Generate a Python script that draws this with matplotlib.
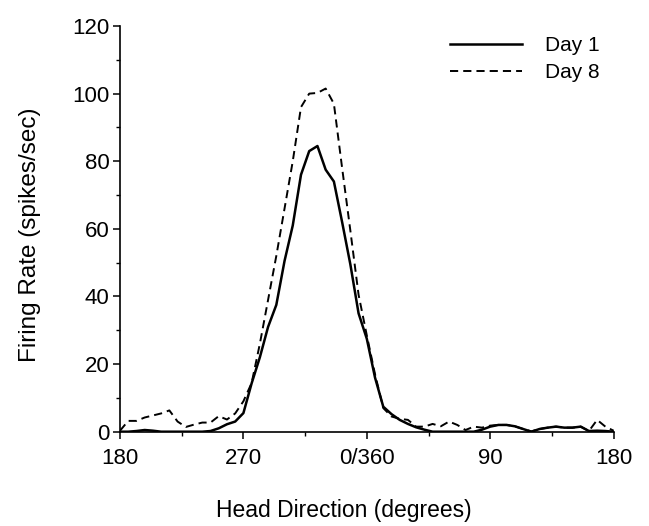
import matplotlib
matplotlib.use("Agg")
import matplotlib.pyplot as plt
from matplotlib.ticker import MultipleLocator

plt.rcParams['font.family'] = ['Liberation Sans', 'DejaVu Sans']

# Head direction (degrees, unwrapped 180 -> 540)
angles = [180, 186, 192, 198, 204, 210, 216, 222, 228, 234, 240, 246, 252, 258, 264,
          270, 276, 282, 288, 294, 300, 306, 312, 318, 324, 330, 336, 342, 348, 354,
          360, 366, 372, 378, 384, 390, 396, 402, 408, 414, 420, 426, 432, 438, 444,
          450, 456, 462, 468, 474, 480, 486, 492, 498, 504, 510, 516, 522, 528, 534, 540]

day1 = [0, 0, 0.2, 0.5, 0.3, 0, 0, 0, 0, 0, 0, 0.2, 1.0, 2.2, 3.0,
        5.5, 14.3, 22, 31, 37.5, 50.5, 61, 76, 83, 84.5, 77.5, 74, 62, 49.5, 35,
        27.5, 16, 7.4, 5.2, 3.5, 2.3, 1.3, 0.6, 0, 0, 0, 0, 0, 0, 0.6,
        1.5, 2, 2, 1.6, 0.8, 0, 0.8, 1.2, 1.5, 1.2, 1.2, 1.5, 0.2, 0.3, 0.2, 0]

day8 = [0.3, 3.2, 3.2, 4.2, 4.8, 5.4, 6.3, 3.0, 1.4, 2.1, 2.7, 2.7, 4.6, 3.6, 5.4,
        9, 14.4, 26, 39, 52, 66, 80, 96, 100, 100.2, 101.5, 97, 78, 59.5, 40.5,
        28.5, 17, 7, 4.5, 3.8, 3.5, 1.5, 1.5, 2.3, 1.6, 3.0, 2.0, 0.5, 1.5, 1.2,
        1.8, 2, 2, 1.6, 0.8, 0.1, 0.8, 1.2, 1.5, 1.2, 1.2, 1.5, 0.2, 3.5, 1.5, 0.3]

xtick_pos = [180, 270, 360, 450, 540]
xtick_labels = ['180', '270', '0/360', '90', '180']
ytick_pos = [0, 20, 40, 60, 80, 100, 120]

W, H = 649, 526
fig = plt.figure(figsize=(W / 100, H / 100), dpi=100)
ax_l, ax_r, ax_b, ax_t = 120, 613.6, 431.7, 26
ax = fig.add_axes([ax_l / W, 1 - ax_b / H, (ax_r - ax_l) / W, (ax_b - ax_t) / H])

ax.plot(angles, day1, color='black', lw=1.8, linestyle='-', label='Day 1')
ax.plot(angles, day8, color='black', lw=1.4, linestyle=(0, (4.2, 2.6)), label='Day 8')

ax.set_xlim(180, 540)
ax.set_ylim(0, 120)
ax.set_xticks(xtick_pos)
ax.set_xticklabels(xtick_labels)
ax.set_yticks(ytick_pos)
ax.xaxis.set_minor_locator(MultipleLocator(45))
ax.yaxis.set_minor_locator(MultipleLocator(10))

for s in ['top', 'right']:
    ax.spines[s].set_visible(False)
for s in ['left', 'bottom']:
    ax.spines[s].set_linewidth(1.2)

ax.tick_params(which='major', direction='out', length=5, width=1.1, labelsize=16)
ax.tick_params(axis='y', which='major', pad=2.5)
ax.tick_params(axis='x', which='major', pad=7)
ax.tick_params(which='minor', direction='out', length=2.6, width=1.0)

ax.set_xlabel('Head Direction (degrees)', fontsize=16.5)
ax.set_ylabel('Firing Rate (spikes/sec)', fontsize=17.5)
ax.xaxis.set_label_coords((344 - ax_l) / (ax_r - ax_l), (ax_b - 499) / (ax_b - ax_t))
ax.yaxis.set_label_coords((41 - ax_l) / (ax_r - ax_l), (ax_b - 235) / (ax_b - ax_t))

leg = ax.legend(loc='upper left', frameon=False, fontsize=15, handlelength=3.45,
                handletextpad=1.1, labelspacing=0.38, borderpad=0, borderaxespad=0,
                bbox_to_anchor=(450 / W, 1 - 36 / H), bbox_transform=fig.transFigure)

fig.savefig('out.png', dpi=100)
